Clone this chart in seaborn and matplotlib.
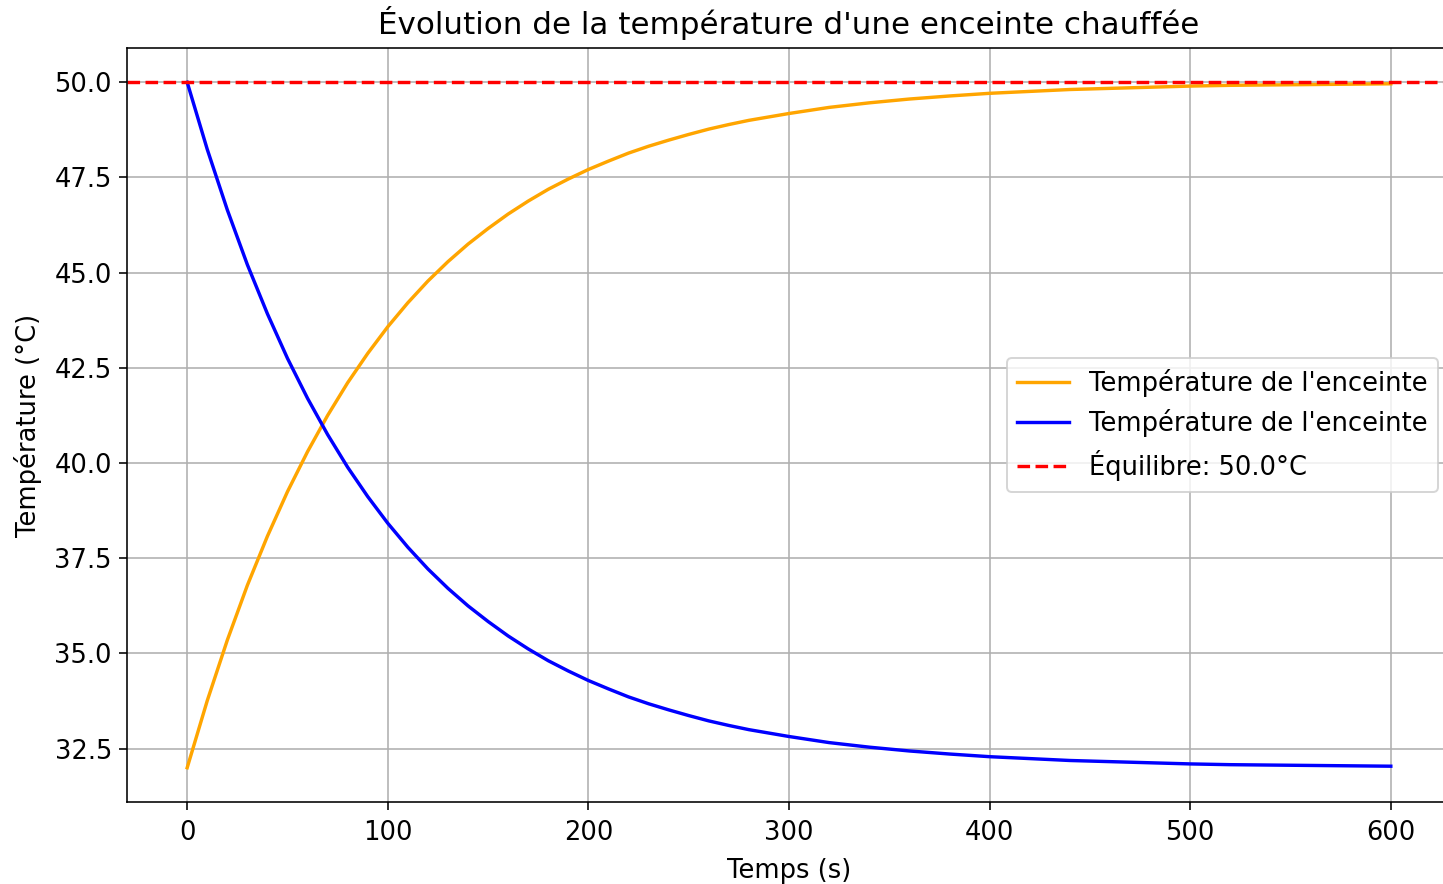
import matplotlib
matplotlib.use("Agg")
import matplotlib.pyplot as plt
import seaborn as sns
import pandas as pd

temps = [0, 10, 20, 30, 40, 50, 60, 70, 80, 90, 100, 110, 120, 130, 140, 150, 160, 170, 180,
         190, 200, 210, 220, 230, 240, 250, 260, 270, 280, 290, 300, 320, 340, 360, 380, 400,
         420, 440, 460, 480, 500, 520, 540, 560, 580, 600]
chauffe = [32.00, 33.76, 35.35, 36.79, 38.08, 39.25, 40.30, 41.25, 42.11, 42.88, 43.58, 44.21,
           44.78, 45.29, 45.75, 46.16, 46.54, 46.88, 47.19, 47.46, 47.71, 47.93, 48.14, 48.32,
           48.48, 48.63, 48.77, 48.89, 49.00, 49.09, 49.18, 49.34, 49.46, 49.56, 49.64, 49.71,
           49.76, 49.81, 49.84, 49.87, 49.90, 49.92, 49.93, 49.94, 49.95, 49.96]
refroid = [50.00, 48.24, 46.65, 45.21, 43.92, 42.75, 41.70, 40.75, 39.89, 39.12, 38.42, 37.79,
           37.22, 36.71, 36.25, 35.84, 35.46, 35.12, 34.81, 34.54, 34.29, 34.07, 33.86, 33.68,
           33.52, 33.37, 33.23, 33.11, 33.00, 32.91, 32.82, 32.66, 32.54, 32.44, 32.36, 32.29,
           32.24, 32.19, 32.16, 32.13, 32.10, 32.08, 32.07, 32.06, 32.05, 32.04]
equilibre = 50.0

df = pd.DataFrame({"t": temps, "a": chauffe, "b": refroid})

plt.rcParams["font.size"] = 12.9
plt.rcParams["lines.linewidth"] = 1.7
plt.rcParams["xtick.major.size"] = 4
plt.rcParams["ytick.major.size"] = 4
plt.rcParams["xtick.major.pad"] = 5

fig = plt.figure(figsize=(1443 / 144, 884 / 144), dpi=144)
ax = fig.add_axes([127 / 1443, 82 / 884, 1324 / 1443, 754 / 884])

sns.lineplot(data=df, x="t", y="a", ax=ax, color="orange", label="Température de l'enceinte")
sns.lineplot(data=df, x="t", y="b", ax=ax, color="blue", label="Température de l'enceinte")
ax.axhline(equilibre, color="red", linestyle="--", label=f"Équilibre: {equilibre}°C")

ax.set_title("Évolution de la température d'une enceinte chauffée", pad=7)
ax.set_xlabel("Temps (s)", labelpad=6)
ax.set_ylabel("Température (°C)", labelpad=6)
ax.grid(True)
ax.legend(loc="center right")

fig.savefig("out.png", dpi=144)
